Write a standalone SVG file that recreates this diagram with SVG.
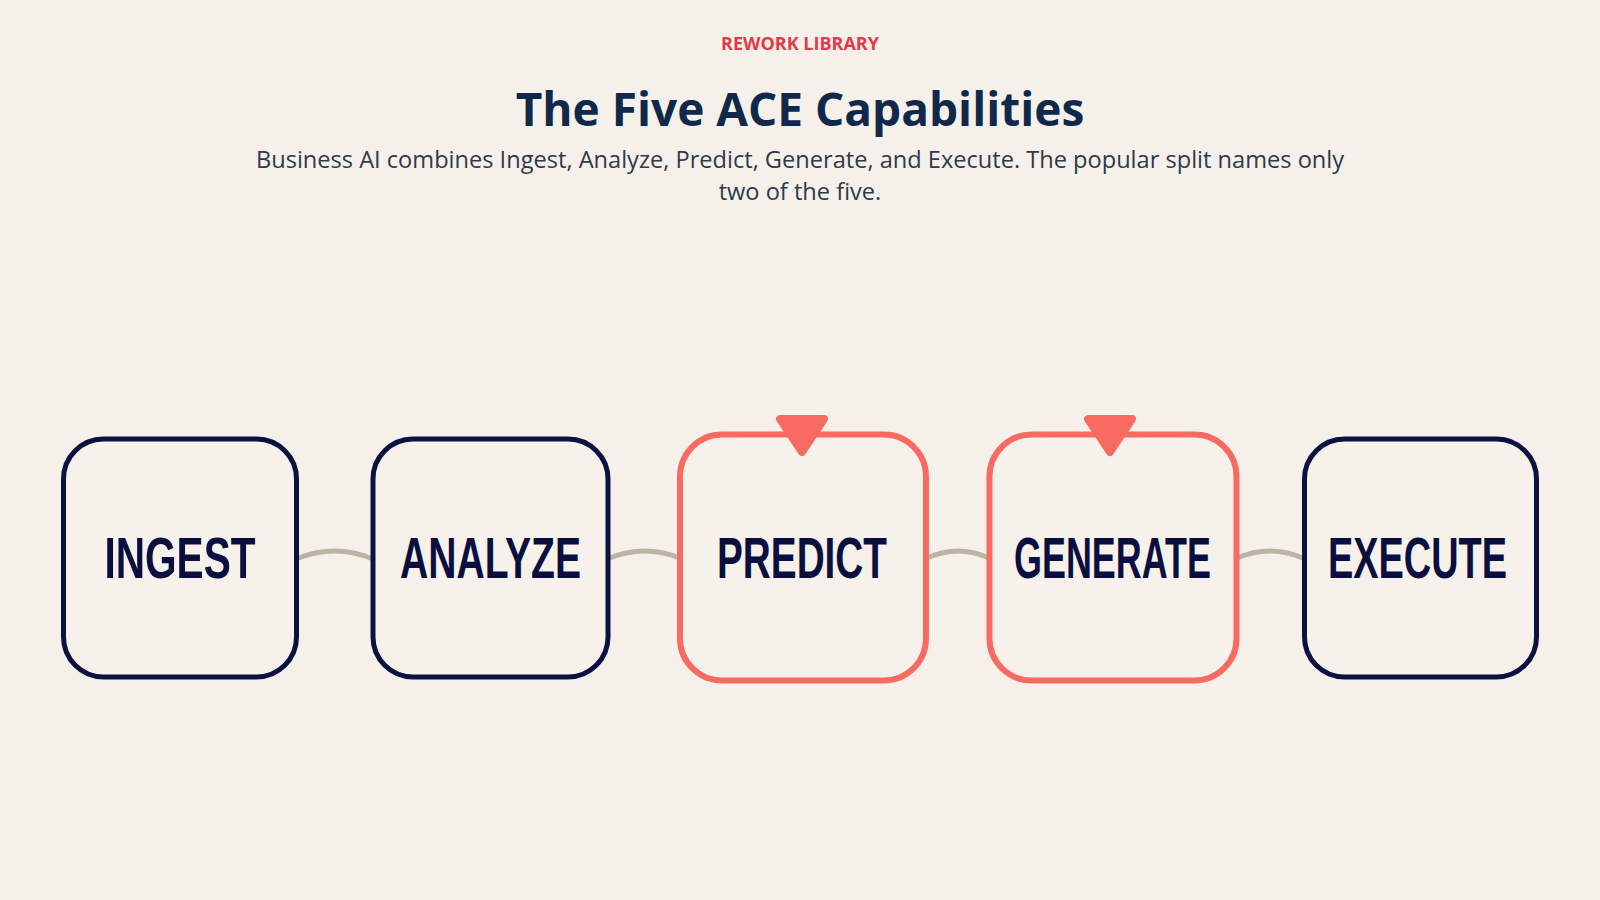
<svg xmlns="http://www.w3.org/2000/svg" width="1600" height="900" viewBox="0 0 1600 900">
<style>
.bg{fill:#f5f1ea}
.kicker{font-family:"Open Sans","Noto Sans",sans-serif;font-weight:700;font-size:18px;fill:#e63946;text-anchor:middle}
.title{font-family:"Open Sans","Noto Sans",sans-serif;font-weight:700;font-size:46px;fill:#10294a;text-anchor:middle}
.sub{font-family:"Open Sans","Noto Sans",sans-serif;font-size:23.6px;fill:#2f3a4b;text-anchor:middle}
.box{fill:#f6f2eb;stroke:#0b1242;stroke-width:5}
.hbox{fill:#f6f2eb;stroke:#f96a60;stroke-width:6}
.lbl{font-family:"Liberation Sans Narrow","Liberation Sans",sans-serif;font-weight:700;font-size:58px;fill:#0a0f3f;text-anchor:middle}
.conn{fill:none;stroke:#bdb3a5;stroke-width:5;stroke-linecap:round}
.tri{fill:#f96a60;stroke:#f96a60;stroke-width:8;stroke-linejoin:round}
</style>
<rect class="bg" x="0" y="0" width="1600" height="900"/>
<g id="header">
<text class="kicker" x="800" y="50">REWORK LIBRARY</text>
<text class="title" x="800" y="126">The Five ACE Capabilities</text>
<text class="sub" x="800" y="168">Business AI combines Ingest, Analyze, Predict, Generate, and Execute. The popular split names only</text>
<text class="sub" x="800" y="200">two of the five.</text>
</g>
<g id="connectors">
<path class="conn" d="M 296 559 Q 335 543 373 559"/>
<path class="conn" d="M 607 559 Q 645 543 682 559"/>
<path class="conn" d="M 925 559 Q 958 543 991 559"/>
<path class="conn" d="M 1235 559 Q 1270 543 1305 559"/>
</g>
<g id="ingest">
<rect class="box" x="63.5" y="439" width="233" height="238" rx="40"/>
<text class="lbl" x="180" y="578" textLength="151" lengthAdjust="spacingAndGlyphs">INGEST</text>
</g>
<g id="analyze">
<rect class="box" x="373" y="439" width="235" height="238" rx="40"/>
<text class="lbl" x="490.5" y="578" textLength="181" lengthAdjust="spacingAndGlyphs">ANALYZE</text>
</g>
<g id="predict">
<rect class="hbox" x="680" y="434.5" width="246" height="246" rx="42"/>
<polygon class="tri" points="780,419 824,419 802,452"/>
<text class="lbl" x="802" y="578" textLength="170" lengthAdjust="spacingAndGlyphs">PREDICT</text>
</g>
<g id="generate">
<rect class="hbox" x="989.5" y="434.5" width="247" height="246" rx="42"/>
<polygon class="tri" points="1088,419 1132,419 1110,452"/>
<text class="lbl" x="1112.5" y="578" textLength="197" lengthAdjust="spacingAndGlyphs">GENERATE</text>
</g>
<g id="execute">
<rect class="box" x="1304.5" y="439" width="232" height="238" rx="40"/>
<text class="lbl" x="1417.5" y="578" textLength="179" lengthAdjust="spacingAndGlyphs">EXECUTE</text>
</g>
</svg>
